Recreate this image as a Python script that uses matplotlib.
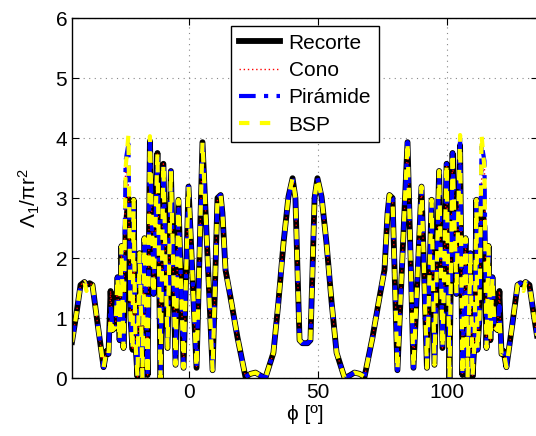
import matplotlib
matplotlib.use('Agg')
import matplotlib.pyplot as plt

plt.rcParams['font.family'] = ['Liberation Sans', 'DejaVu Sans']
plt.rcParams['mathtext.fontset'] = 'custom'
plt.rcParams['mathtext.rm'] = 'Liberation Sans'
plt.rcParams['mathtext.it'] = 'Liberation Sans'

phi = [-45.0, -43.2, -41.7, -40.2, -39.4, -38.2, -37.1, -35.1, -32.8, -31.7,
       -30.9, -30.1, -29.3, -28.2, -27.4, -26.6, -25.9, -25.1, -24.3, -23.2,
       -22.4, -21.6, -21.2, -20.5, -19.7, -18.9, -17.8, -17.0, -15.8, -14.9,
       -13.5, -12.0, -10.8, -9.7, -8.1, -6.8, -5.0, -3.9, -1.9, 0.0,
       3.1, 5.4, 9.3, 11.2, 12.4, 13.1, 14.3, 16.2, 18.9, 22.0,
       24.0, 25.9, 27.8, 29.7, 32.8, 34.7, 36.7, 38.6, 40.2, 41.3,
       42.1, 42.9, 44.0,
       46.0, 47.1, 47.9, 48.7, 49.8, 51.4, 53.3, 55.3, 57.2, 60.3,
       62.2, 64.1, 66.0, 68.0, 71.1, 73.8, 75.7, 76.9, 77.6, 78.8,
       80.7, 84.6, 86.9, 90.0, 92.1, 93.9, 95.0, 96.8, 98.1, 99.7,
       100.8, 102.0, 103.5, 104.9, 105.8, 107.0, 107.8, 108.9, 109.7, 110.5,
       111.2, 111.6, 112.4, 113.2, 114.3, 115.1, 115.9, 116.6, 117.4, 118.2,
       119.3, 120.1, 120.9, 121.7, 122.8, 125.1, 127.1, 128.2, 129.4, 130.2,
       131.7, 133.2, 135.0]

recorte = [0.60, 1.10, 1.55, 1.60, 1.55, 1.58, 1.55, 0.90, 0.18, 0.45,
           0.40, 1.45, 0.80, 0.85, 1.68, 0.63, 2.20, 0.50, 2.50, 3.00,
           1.00, 0.47, 2.97, 0.60, 0.02, 2.08, 0.00, 2.33, 0.05, 3.95,
           1.40, 3.75, 0.00, 3.57, 0.50, 3.45, 0.22, 2.97, 0.17, 3.19,
           0.17, 3.93, 0.13, 3.00, 3.05, 2.75, 1.80, 1.35, 0.68, 0.02,
           0.07, 0.09, 0.04, 0.00, 0.42, 1.25, 2.25, 3.02, 3.33, 3.00,
           1.80, 0.63, 0.58,
           0.58, 0.63, 1.80, 3.00, 3.33, 3.02, 2.25, 1.25, 0.42, 0.00,
           0.04, 0.09, 0.07, 0.02, 0.68, 1.35, 1.80, 2.75, 3.05, 3.00,
           0.13, 3.93, 0.17, 3.19, 0.17, 2.97, 0.22, 3.45, 0.50, 3.57,
           0.00, 3.75, 1.40, 3.88, 0.05, 2.33, 0.00, 2.08, 0.02, 0.60,
           2.97, 0.47, 1.00, 3.00, 2.50, 0.50, 2.20, 0.63, 1.68, 0.85,
           0.80, 1.45, 0.40, 0.45, 0.18, 0.90, 1.55, 1.58, 1.55, 1.60,
           1.55, 1.10, 0.60]

cono = [0.60, 1.10, 1.55, 1.60, 1.55, 1.58, 1.55, 0.90, 0.18, 0.45,
        0.40, 1.45, 0.80, 0.85, 1.68, 0.63, 2.20, 0.50, 3.60, 3.20,
        1.00, 0.47, 2.97, 0.60, 0.02, 2.08, 0.00, 2.33, 0.05, 3.98,
        1.40, 3.75, 0.00, 3.57, 0.50, 3.45, 0.22, 2.97, 0.17, 3.19,
        0.17, 3.93, 0.13, 3.00, 3.05, 2.75, 1.80, 1.35, 0.68, 0.02,
        0.07, 0.09, 0.04, 0.00, 0.42, 1.25, 2.25, 3.02, 3.33, 3.00,
        1.80, 0.63, 0.58,
        0.58, 0.63, 1.80, 3.00, 3.33, 3.02, 2.25, 1.25, 0.42, 0.00,
        0.04, 0.09, 0.07, 0.02, 0.68, 1.35, 1.80, 2.75, 3.05, 3.00,
        0.13, 3.93, 0.17, 3.19, 0.17, 2.97, 0.22, 3.45, 0.50, 3.57,
        0.00, 3.75, 1.40, 3.95, 0.05, 2.33, 0.00, 2.08, 0.02, 0.60,
        2.97, 0.47, 1.00, 3.30, 3.60, 0.50, 2.20, 0.63, 1.68, 0.85,
        0.80, 1.45, 0.40, 0.45, 0.18, 0.90, 1.55, 1.58, 1.55, 1.60,
        1.55, 1.10, 0.60]

piramide = [0.60, 1.10, 1.55, 1.60, 1.55, 1.58, 1.55, 0.90, 0.18, 0.45,
            0.40, 1.20, 0.80, 0.85, 1.68, 0.63, 2.20, 0.50, 3.62, 3.90,
            1.00, 0.47, 2.97, 0.60, 0.02, 2.08, 0.00, 2.33, 0.05, 4.00,
            1.40, 3.75, 0.00, 3.57, 0.50, 3.45, 0.22, 2.97, 0.17, 3.19,
            0.17, 3.93, 0.13, 3.00, 3.05, 2.75, 1.80, 1.35, 0.68, 0.02,
            0.07, 0.09, 0.04, 0.00, 0.42, 1.25, 2.25, 3.02, 3.33, 3.00,
            1.80, 0.63, 0.58,
            0.58, 0.63, 1.80, 3.00, 3.33, 3.02, 2.25, 1.25, 0.42, 0.00,
            0.04, 0.09, 0.07, 0.02, 0.68, 1.35, 1.80, 2.75, 3.05, 3.00,
            0.13, 3.93, 0.17, 3.19, 0.17, 2.97, 0.22, 3.45, 0.50, 3.57,
            0.00, 3.75, 1.40, 3.98, 0.05, 2.33, 0.00, 2.08, 0.02, 0.60,
            2.97, 0.47, 1.00, 3.90, 3.62, 0.50, 2.20, 0.63, 1.68, 0.85,
            0.80, 1.20, 0.40, 0.45, 0.18, 0.90, 1.55, 1.58, 1.50, 1.60,
            1.55, 1.10, 0.60]

bsp = [0.60, 1.10, 1.55, 1.60, 1.45, 1.58, 1.55, 0.90, 0.18, 0.45,
       0.40, 1.00, 0.80, 0.85, 1.68, 0.63, 2.20, 0.50, 3.50, 4.05,
       1.00, 0.47, 2.97, 0.60, 0.02, 2.08, 0.00, 2.33, 0.05, 4.03,
       1.40, 3.75, 0.00, 3.57, 0.50, 3.45, 0.22, 2.97, 0.17, 3.19,
       0.17, 3.93, 0.13, 3.00, 3.05, 2.75, 1.80, 1.35, 0.68, 0.02,
       0.07, 0.09, 0.04, 0.00, 0.42, 1.25, 2.25, 3.02, 3.33, 3.00,
       1.80, 0.63, 0.58,
       0.58, 0.63, 1.80, 3.00, 3.33, 3.02, 2.25, 1.25, 0.42, 0.00,
       0.04, 0.09, 0.07, 0.02, 0.68, 1.35, 1.80, 2.75, 3.05, 3.00,
       0.13, 3.93, 0.17, 3.19, 0.17, 2.97, 0.22, 3.45, 0.50, 3.57,
       0.00, 3.75, 1.40, 4.05, 0.05, 2.33, 0.00, 2.08, 0.02, 0.60,
       2.97, 0.47, 1.00, 4.05, 3.50, 0.50, 2.20, 0.63, 1.68, 0.85,
       0.80, 1.00, 0.40, 0.45, 0.18, 0.90, 1.55, 1.58, 1.45, 1.60,
       1.55, 1.10, 0.60]

fig = plt.figure(figsize=(5.36, 4.36), dpi=100)
ax = fig.add_axes([72/536, 58/436, 466/536, 360/436])

ax.plot(phi, recorte, color='black', lw=4.2, label='Recorte')
ax.plot(phi, cono, color='red', lw=1, linestyle=(0, (1, 2)), label='Cono')
ax.plot(phi, piramide, color='blue', lw=3, linestyle=(0, (4, 2, 1, 2)), label='Pirámide')
ax.plot(phi, bsp, color='yellow', lw=3, linestyle=(0, (2.5, 2.5)), label='BSP')

ax.set_xlim(-45, 135)
ax.set_ylim(0, 6)
ax.set_xticks([0, 50, 100])
ax.set_yticks(range(7))
ax.grid(True, color='#888888', linestyle=(0, (1, 4)), lw=0.8)
ax.tick_params(direction='in', length=5, labelsize=15, top=True, right=True)
for s in ax.spines.values():
    s.set_linewidth(1)

ax.set_xlabel('\u03d5 [º]', fontsize=15, labelpad=2)
ax.set_ylabel('Λ$_1$/πr$^2$', fontsize=15, labelpad=10)

leg = ax.legend(loc='upper center', fontsize=15, fancybox=False, framealpha=1,
                edgecolor='black', handlelength=2.0, borderaxespad=0.4,
                labelspacing=0.4, handletextpad=0.4, borderpad=0.35)
leg.get_frame().set_linewidth(1)

fig.savefig('out.png', dpi=100)
